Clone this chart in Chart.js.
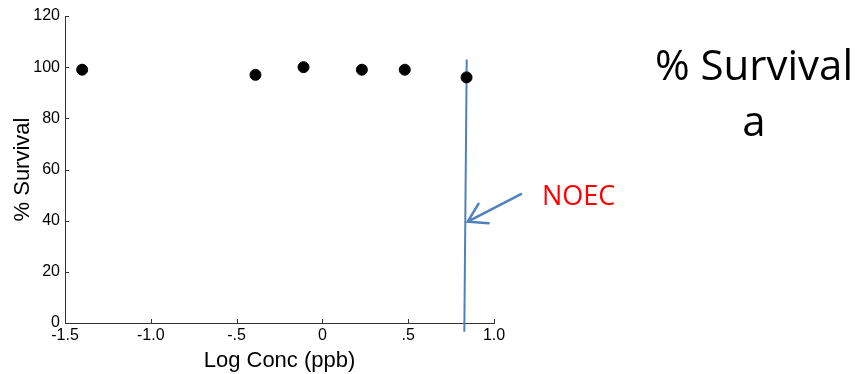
<!DOCTYPE html>
<html>
<head>
<meta charset="utf-8">
<script src="https://cdn.jsdelivr.net/npm/chart.js@4.4.0/dist/chart.umd.min.js"></script>
<style>
  html, body { margin: 0; padding: 0; background: #fff; }
  #wrap { position: relative; width: 855px; height: 374px; }
  #side {
    position: absolute; left: 654px; top: 36px; width: 200px;
    text-align: center; font-family: "Open Sans", sans-serif;
    font-size: 42px; line-height: 56px; color: #000;
  }
</style>
</head>
<body>
<div id="wrap">
  <canvas id="c" width="855" height="374"></canvas>
  <div id="side">% Survival<br>a</div>
</div>
<script>
const logConc = [-1.4, -0.39, -0.11, 0.23, 0.48, 0.84];
const survival = [99, 97, 100, 99, 99, 96];

const xTickValues = [-1.5, -1.0, -0.5, 0, 0.5, 1.0];
const xTickLabels = ['-1.5', '-1.0', '-.5', '0', '.5', '1.0'];
const yTickValues = [0, 20, 40, 60, 80, 100, 120];

// NOEC marker line (slightly slanted in the original) and arrow
const noecLineX = [0.841, 0.827];
const noecLineY = [103, -3.4];
const arrowFrom = [1.157, 50.4];
const arrowTo = [0.847, 39.6];
const noecLabel = 'NOEC';

const blue = '#4F81BD';
const axisFont = 'Liberation Sans, Arial, sans-serif';

const innerTicks = {
  id: 'innerTicks',
  afterDraw(chart) {
    const { ctx, scales: { x, y } } = chart;
    ctx.save();
    ctx.strokeStyle = '#333';
    ctx.lineWidth = 1;
    ctx.beginPath();
    xTickValues.forEach(v => {
      const px = Math.round(x.getPixelForValue(v)) + 0.5;
      ctx.moveTo(px, y.bottom);
      ctx.lineTo(px, y.bottom - 4);
    });
    yTickValues.forEach(v => {
      const py = Math.round(y.getPixelForValue(v)) + 0.5;
      ctx.moveTo(x.left, py);
      ctx.lineTo(x.left + 4, py);
    });
    ctx.stroke();

    // arrow pointing at the NOEC line
    const x0 = x.getPixelForValue(arrowFrom[0]), y0 = y.getPixelForValue(arrowFrom[1]);
    const x1 = x.getPixelForValue(arrowTo[0]), y1 = y.getPixelForValue(arrowTo[1]);
    const ang = Math.atan2(y1 - y0, x1 - x0);
    const head = 21, spread = 0.55;
    ctx.strokeStyle = blue;
    ctx.lineWidth = 2.5;
    ctx.lineCap = 'round';
    ctx.beginPath();
    ctx.moveTo(x0, y0);
    ctx.lineTo(x1, y1);
    ctx.moveTo(x1 - head * Math.cos(ang - spread), y1 - head * Math.sin(ang - spread));
    ctx.lineTo(x1, y1);
    ctx.lineTo(x1 - head * Math.cos(ang + spread), y1 - head * Math.sin(ang + spread));
    ctx.stroke();

    ctx.fillStyle = '#FF0000';
    ctx.font = '27px "Open Sans", sans-serif';
    ctx.textBaseline = 'alphabetic';
    ctx.textAlign = 'left';
    ctx.fillText(noecLabel, x0 + 21, y0 + 11);
    ctx.restore();
  }
};

new Chart(document.getElementById('c'), {
  type: 'scatter',
  data: {
    datasets: [
      {
        data: logConc.map((v, i) => ({ x: v, y: survival[i] })),
        backgroundColor: '#000',
        borderColor: '#000',
        pointRadius: 5.5,
        pointHoverRadius: 5.5
      },
      {
        type: 'line',
        data: noecLineX.map((v, i) => ({ x: v, y: noecLineY[i] })),
        borderColor: blue,
        borderWidth: 2,
        pointRadius: 0,
        clip: false
      }
    ]
  },
  plugins: [innerTicks],
  options: {
    responsive: false,
    animation: false,
    events: [],
    layout: { padding: { top: 16, right: 361, left: 0, bottom: 0 } },
    plugins: { legend: { display: false }, tooltip: { enabled: false } },
    scales: {
      x: {
        type: 'linear',
        min: -1.5,
        max: 1.0,
        afterBuildTicks: s => { s.ticks = xTickValues.map(v => ({ value: v })); },
        afterFit: s => { s.height = 51; },
        ticks: {
          autoSkip: false,
          maxRotation: 0,
          padding: 3,
          color: '#000',
          font: { family: axisFont, size: 16 },
          callback: (v) => xTickLabels[xTickValues.indexOf(v)]
        },
        grid: { drawOnChartArea: false, drawTicks: false },
        border: { color: '#333', width: 1 },
        title: {
          display: true,
          text: 'Log Conc (ppb)',
          color: '#000',
          font: { family: axisFont, size: 22 },
          padding: { top: -3, bottom: 0 }
        }
      },
      y: {
        min: 0,
        max: 120,
        afterBuildTicks: s => { s.ticks = yTickValues.map(v => ({ value: v })); },
        afterFit: s => { s.width = 65; },
        ticks: {
          padding: 5,
          color: '#000',
          font: { family: axisFont, size: 16 }
        },
        grid: { drawOnChartArea: false, drawTicks: false },
        border: { color: '#333', width: 1 },
        title: {
          display: true,
          text: '% Survival',
          color: '#000',
          font: { family: axisFont, size: 22 },
          padding: { top: 10, bottom: 0 }
        }
      }
    }
  }
});
</script>
</body>
</html>
